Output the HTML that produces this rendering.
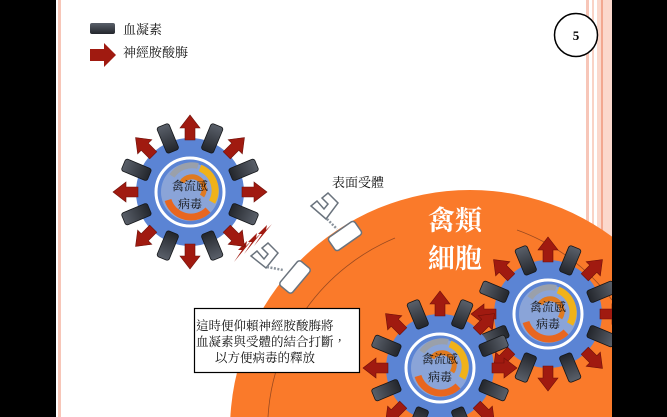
<!DOCTYPE html>
<html><head><meta charset="utf-8"><style>
html,body{margin:0;padding:0;background:#000;width:667px;height:417px;overflow:hidden;}
body{position:relative;font-family:"Liberation Serif","Noto Serif CJK TC","Noto Serif CJK SC",serif;}
svg{position:absolute;left:0;top:0;display:block;overflow:hidden;}
</style></head><body>
<svg width="667" height="417" viewBox="0 0 667 417" xmlns="http://www.w3.org/2000/svg">
<defs>
<clipPath id="frame"><rect x="0" y="0" width="667" height="417"/></clipPath>
<linearGradient id="bar" x1="0" y1="0" x2="0" y2="1"><stop offset="0" stop-color="#5a606a"/><stop offset="1" stop-color="#23262c"/></linearGradient>
<g id="bar1"><rect x="-6.5" y="-14" width="13" height="28" rx="2.5" fill="url(#bar)" stroke="#15171a" stroke-width="0.8"/></g>
<g id="arr1"><path d="M-5,10 L-5,-2 L-10,-2 L0,-15 L10,-2 L5,-2 L5,10 Z" fill="#a01a10" stroke="#6e0f08" stroke-width="0.6"/></g>
<g id="virus">
<circle r="54" fill="#5b84d4"/>
<use href="#arr1" transform="rotate(0) translate(0,-62)"/>
<use href="#bar1" transform="rotate(22.5) translate(0,-58)"/>
<use href="#arr1" transform="rotate(45) translate(0,-62)"/>
<use href="#bar1" transform="rotate(67.5) translate(0,-58)"/>
<use href="#arr1" transform="rotate(90) translate(0,-62)"/>
<use href="#bar1" transform="rotate(112.5) translate(0,-58)"/>
<use href="#arr1" transform="rotate(135) translate(0,-62)"/>
<use href="#bar1" transform="rotate(157.5) translate(0,-58)"/>
<use href="#arr1" transform="rotate(180) translate(0,-62)"/>
<use href="#bar1" transform="rotate(202.5) translate(0,-58)"/>
<use href="#arr1" transform="rotate(225) translate(0,-62)"/>
<use href="#bar1" transform="rotate(247.5) translate(0,-58)"/>
<use href="#arr1" transform="rotate(270) translate(0,-62)"/>
<use href="#bar1" transform="rotate(292.5) translate(0,-58)"/>
<use href="#arr1" transform="rotate(315) translate(0,-62)"/>
<use href="#bar1" transform="rotate(337.5) translate(0,-58)"/>
<circle r="34" fill="#5b84d4" stroke="#fff" stroke-width="3"/>
<circle r="29" fill="#8aa4d8"/>
<path d="M-22,8 A24,24 0 0 0 18,18" fill="none" stroke="#e8661f" stroke-width="7"/>
<path d="M10,-24 A24,24 0 0 1 22,10" fill="none" stroke="#f0b21a" stroke-width="7"/>
<path d="M-18,-16 A24,24 0 0 1 8,-26" fill="none" stroke="#9aa0aa" stroke-width="6"/>
<path d="M-8,-10 A12,12 0 0 1 12,4" fill="none" stroke="#e07a20" stroke-width="5"/>
</g>
</defs>
<g clip-path="url(#frame)">
<rect x="56" y="0" width="556" height="417" fill="#fff"/>
<rect x="58" y="0" width="3" height="417" fill="#f7c6b8"/>
<rect x="586" y="0" width="3" height="417" fill="#f7c6b8"/>
<rect x="592" y="0" width="2" height="417" fill="#f9d3c6"/>
<rect x="597" y="0" width="15" height="417" fill="#fbd8cc"/>
<rect x="601" y="0" width="2" height="417" fill="#f2a890"/>
<rect x="90" y="23" width="25" height="11" rx="2" fill="url(#bar)"/>
<text x="123" y="34" font-size="13" fill="#111">血凝素</text>
<path d="M90,49 L104,49 L104,43 L116,55 L104,67 L104,61 L90,61 Z" fill="#a01a10"/>
<text x="123" y="57" font-size="13" fill="#111">神經胺酸脢</text>
<circle cx="576" cy="35" r="21.5" fill="#fff" stroke="#000" stroke-width="1.5"/>
<text x="576" y="40" font-size="13" font-weight="bold" text-anchor="middle">5</text>
<circle cx="470" cy="430" r="240" fill="#fa7a2a"/>
<path d="M268,417 A207,207 0 0 1 395,238" fill="none" stroke="#9a4a20" stroke-width="0.8"/>
<path d="M517,230 A207,207 0 0 1 612,300" fill="none" stroke="#9a4a20" stroke-width="0.8"/>
<text x="455" y="230" font-size="27" font-weight="bold" fill="#fff" text-anchor="middle">禽類</text>
<text x="455" y="268" font-size="27" font-weight="bold" fill="#fff" text-anchor="middle">細胞</text>
<text x="332" y="187" font-size="13" fill="#111">表面受體</text>
<g fill="#fff" stroke="#6a737d" stroke-width="1.5">
<rect x="-16" y="-8" width="32" height="16" rx="3" transform="translate(345,236) rotate(-35)"/>
<rect x="-16" y="-8" width="32" height="16" rx="3" transform="translate(295,277) rotate(-50)"/>
<path d="M311,206 L317,201 L324,209 L328,204 L322,198 L328,193 L338,203 L326,219 Z"/>
<path d="M251,256 L257,251 L264,259 L268,254 L262,248 L268,243 L278,253 L266,268 Z"/>
</g>
<g fill="none" stroke="#8a939c" stroke-width="2.5" stroke-dasharray="2,1.5">
<path d="M327,219 L337,229"/>
<path d="M267,267 L283,270"/>
</g>
<g fill="#a01a10">
<path d="M234,262 L242,250 L238,250 L247,241 L246,246 L252,240 Z"/>
<path d="M244,254 L252,242 L248,242 L257,233 L256,238 L262,232 Z"/>
<path d="M254,246 L262,234 L258,234 L267,225 L266,230 L272,224 Z"/>
</g>
<use href="#virus" transform="translate(190,192)"/>
<use href="#virus" transform="translate(548,314)"/>
<use href="#virus" transform="translate(440,368)"/>
<g font-size="12" fill="#111" text-anchor="middle">
<text x="190" y="190">禽流感</text><text x="190" y="208">病毒</text>
<text x="548" y="311">禽流感</text><text x="548" y="328">病毒</text>
<text x="440" y="363">禽流感</text><text x="440" y="381">病毒</text>
</g>
<rect x="194.5" y="308.5" width="165" height="64" fill="#fff" stroke="#000" stroke-width="1.2"/>
<g font-size="12.5" fill="#111">
<text x="196" y="330">這時便仰賴神經胺酸脢將</text>
<text x="196" y="346">血凝素與受體的結合打斷，</text>
<text x="215" y="362">以方便病毒的釋放</text>
</g>
<rect x="612" y="0" width="55" height="417" fill="#000"/>
</g>
</svg>
</body></html>
